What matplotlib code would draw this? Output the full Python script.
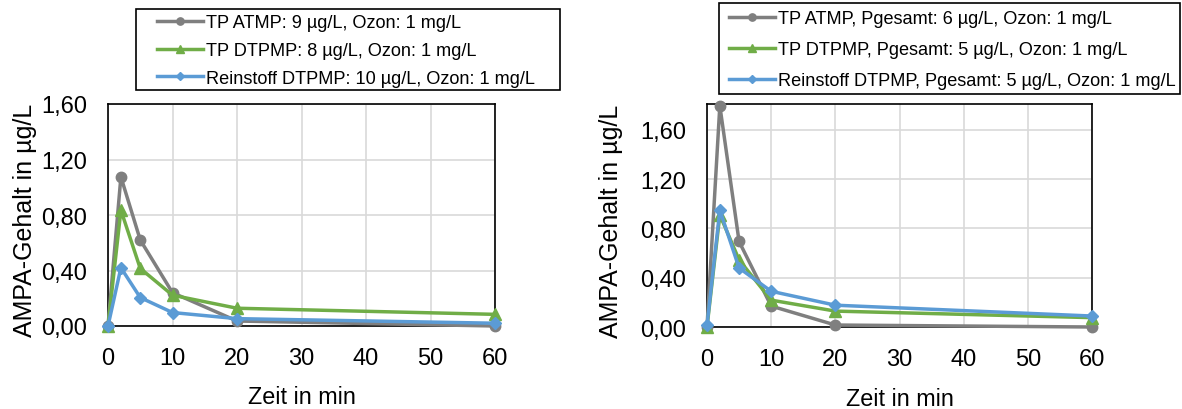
import matplotlib.pyplot as plt
from matplotlib.patches import Rectangle
from matplotlib.ticker import FuncFormatter

plt.rcParams['font.family'] = ['Liberation Sans', 'DejaVu Sans']

# Zeitpunkte in min
zeit = [0, 2, 5, 10, 20, 60]

# Linkes Diagramm
links_atmp = [0.0, 1.075, 0.62, 0.24, 0.036, 0.0]
links_dtpmp = [0.0, 0.835, 0.415, 0.222, 0.128, 0.084]
links_rein = [0.0, 0.42, 0.205, 0.097, 0.053, 0.02]
links_namen = ['TP ATMP: 9 µg/L, Ozon: 1 mg/L',
               'TP DTPMP: 8 µg/L, Ozon: 1 mg/L',
               'Reinstoff DTPMP: 10 µg/L, Ozon: 1 mg/L']

# Rechtes Diagramm
rechts_atmp = [0.0, 1.796, 0.694, 0.17, 0.016, 0.0]
rechts_dtpmp = [0.0, 0.91, 0.545, 0.218, 0.129, 0.076]
rechts_rein = [0.013, 0.949, 0.479, 0.29, 0.177, 0.089]
rechts_namen = ['TP ATMP, Pgesamt: 6 µg/L, Ozon: 1 mg/L',
                'TP DTPMP, Pgesamt: 5 µg/L, Ozon: 1 mg/L',
                'Reinstoff DTPMP, Pgesamt: 5 µg/L, Ozon: 1 mg/L']

farben = ['#7f7f7f', '#70ad47', '#5b9bd5']
marker = ['o', '^', 'D']
msize = [7.5, 8, 6]

W, H = 1182, 410
fig = plt.figure(figsize=(W / 100, H / 100), dpi=100)
ax1 = fig.add_axes([108 / W, 1 - 327 / H, 387 / W, 222 / H])
ax2 = fig.add_axes([707 / W, 1 - 328 / H, 385 / W, 223 / H])

komma = FuncFormatter(lambda v, p: f'{v:.2f}'.replace('.', ','))


def zeichne(ax, reihen, namen, ymax, ylab_x, leg_pos, leg_abstand, rahmen):
    for werte, name, f, m, s in zip(reihen, namen, farben, marker, msize):
        ax.plot(zeit, werte, color=f, marker=m, markersize=s, linewidth=2.5,
                label=name, clip_on=False, zorder=3)
    ax.set_xlim(0, 60)
    ax.set_ylim(0, ymax)
    ax.set_xticks([0, 10, 20, 30, 40, 50, 60])
    ax.set_yticks([0, 0.4, 0.8, 1.2, 1.6])
    ax.yaxis.set_major_formatter(komma)
    ax.grid(color='#d9d9d9', linewidth=1.2)
    ax.set_axisbelow(True)
    for sp in ax.spines.values():
        sp.set_color('black')
        sp.set_linewidth(1.2)
    ax.tick_params(length=0, labelsize=17)
    ax.tick_params(axis='x', pad=15)
    ax.tick_params(axis='y', pad=15)
    ax.set_xlabel('Zeit in min', fontsize=16.8, labelpad=12)
    ax.set_ylabel('AMPA-Gehalt in µg/L', fontsize=18)
    ax.yaxis.set_label_coords(ylab_x, 0.48)

    # Legende ohne eigenen Rahmen, Rahmen separat
    ax.legend(loc='upper left', bbox_to_anchor=leg_pos,
              bbox_transform=fig.transFigure, borderaxespad=0, borderpad=0,
              fontsize=13.1, frameon=False, handlelength=2.55,
              handletextpad=0.15, labelspacing=leg_abstand, markerscale=0.7)
    x0, y0, x1, y1 = rahmen
    fig.patches.append(Rectangle((x0 / W, 1 - y1 / H), (x1 - x0) / W,
                                 (y1 - y0) / H, transform=fig.transFigure,
                                 fill=False, edgecolor='black', linewidth=1.2))


zeichne(ax1, [links_atmp, links_dtpmp, links_rein], links_namen, 1.6, -0.183,
        (157 / W, 1 - 15 / H), 0.6, (136, 10, 560, 91))
zeichne(ax2, [rechts_atmp, rechts_dtpmp, rechts_rein], rechts_namen, 1.81,
        -0.218, (729 / W, 1 - 11 / H), 0.78, (719, 4, 1180, 95))

fig.savefig('out.png', dpi=100)
